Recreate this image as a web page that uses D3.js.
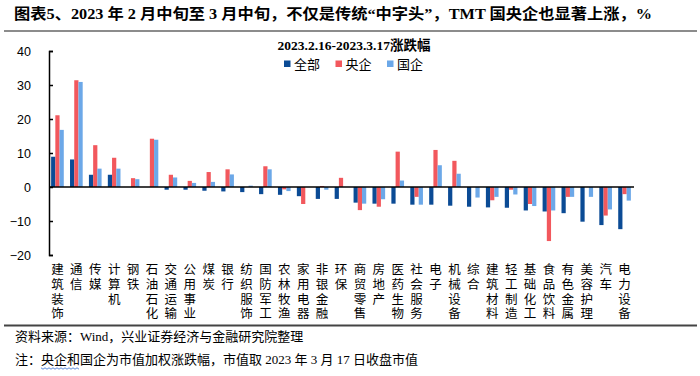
<!DOCTYPE html>
<html>
<head>
<meta charset="utf-8">
<script src="https://cdn.jsdelivr.net/npm/d3@7"></script>
<style>
  body { margin: 0; background: #fff; }
  svg text { fill: #000; }
</style>
</head>
<body>
<div id="chart"></div>
<script>
const categories = ["建筑装饰", "通信", "传媒", "计算机", "钢铁", "石油石化", "交通运输", "公用事业", "煤炭", "银行",
    "纺织服饰", "国防军工", "农林牧渔", "家用电器", "非银金融", "环保", "商贸零售", "房地产", "医药生物", "社会服务",
    "电子", "机械设备", "综合", "建筑材料", "轻工制造", "基础化工", "食品饮料", "有色金属", "美容护理", "汽车", "电力设备"];

const seriesNames = ["全部", "央企", "国企"];

// 全部
const allValues = [8.9, 8.1, 3.6, 3.6, 0, 0, -0.8, -0.8, -1.1, -1.3,
    -1.5, -2.1, -2.3, -2.7, -3.5, -3.5, -4.6, -4.9, -4.9, -5.2,
    -5.2, -5.5, -5.8, -6.0, -6.1, -6.9, -7.2, -7.7, -10.2, -11.2, -12.4];
// 央企
const centralValues = [21.1, 31.4, 12.3, 8.6, 2.6, 14.2, 3.6, 1.8, 4.4, 5.2,
    0, 6.1, -0.7, -5.0, 0.3, 2.7, -6.8, -5.8, 10.4, -2.9,
    10.9, 7.7, 0, -3.9, -0.8, -5.0, -15.9, -2.9, 0, -8.4, -2.1];
// 国企
const stateValues = [16.8, 30.9, 5.4, 5.4, 2.3, 13.9, 2.8, 1.2, 1.5, 3.7,
    0.4, 5.2, -1.2, 0, -0.8, 0, -4.9, -3.6, 1.9, -5.2,
    6.4, 3.9, -3.1, -2.9, -2.2, -5.6, -6.9, -2.9, -2.9, -6.6, -4.0];

const yTicks = [40, 30, 20, 10, 0, -10, -20];

const colors = ["#0b4b95", "#f2585d", "#6ca8e8"];

const width = 700, height = 376;
const cjk = "'Noto Sans CJK SC', sans-serif";
const serif = "'Liberation Serif', 'Noto Sans CJK SC', serif";

const svg = d3.select("#chart")
    .append("svg")
    .attr("width", width)
    .attr("height", height);

// title
svg.append("text")
    .attr("x", 14)
    .attr("y", 19)
    .attr("font-family", serif)
    .attr("font-weight", "bold")
    .attr("font-size", 15)
    .attr("textLength", 638)
    .attr("lengthAdjust", "spacingAndGlyphs")
    .text("图表5、2023 年 2 月中旬至 3 月中旬，不仅是传统“中字头”，TMT 国央企也显著上涨，%");

svg.append("line")
    .attr("x1", 4).attr("x2", 697)
    .attr("y1", 31).attr("y2", 31)
    .attr("stroke", "#666")
    .attr("stroke-width", 1.5);

// subtitle
svg.append("text")
    .attr("x", 354)
    .attr("y", 50)
    .attr("text-anchor", "middle")
    .attr("font-family", serif)
    .attr("font-weight", "bold")
    .attr("font-size", 13.5)
    .text("2023.2.16-2023.3.17涨跌幅");

// legend
const legend = svg.append("g")
    .selectAll("g")
    .data(seriesNames)
    .enter()
    .append("g")
    .attr("transform", (d, i) => `translate(${284 + i * 51.5},64)`);

legend.append("rect")
    .attr("x", 0).attr("y", -3.5)
    .attr("width", 6.5).attr("height", 6.5)
    .attr("fill", (d, i) => colors[i]);

legend.append("text")
    .attr("x", 10)
    .attr("y", 5)
    .attr("font-family", cjk)
    .attr("font-size", 13)
    .text(d => d);

// scales
const x = d3.scaleBand()
    .domain(categories)
    .range([48, 634])
    .paddingInner(0.33)
    .paddingOuter(0.165);

const xSub = d3.scaleBand()
    .domain(seriesNames)
    .range([0, x.bandwidth()]);

const y = d3.scaleLinear()
    .domain([-20, 40])
    .range([255, 51]);

const series = [allValues, centralValues, stateValues];

const rows = categories.map((c, i) => ({
    name: c,
    values: seriesNames.map((s, j) => ({ key: s, value: series[j][i], idx: j }))
}));

// bars
svg.append("g")
    .selectAll("g")
    .data(rows)
    .enter()
    .append("g")
    .attr("transform", d => `translate(${x(d.name)},0)`)
    .selectAll("rect")
    .data(d => d.values)
    .enter()
    .append("rect")
    .attr("x", d => xSub(d.key))
    .attr("width", xSub.bandwidth())
    .attr("y", d => Math.min(y(d.value), y(0)))
    .attr("height", d => Math.abs(y(d.value) - y(0)))
    .attr("fill", d => colors[d.idx]);

// y axis
const yAxis = d3.axisLeft(y)
    .tickValues(yTicks)
    .tickSize(-4)
    .tickPadding(18);

const yG = svg.append("g")
    .attr("transform", "translate(49,0)")
    .call(yAxis);

yG.select(".domain").attr("stroke", "#000").attr("stroke-width", 1.5);
yG.selectAll(".tick line").attr("stroke", "#000").attr("stroke-width", 1.5);
yG.selectAll(".tick text")
    .attr("font-family", "'Liberation Sans', Arial, sans-serif")
    .attr("font-size", 12.5)
    .attr("fill", "#000");

// zero line
svg.append("line")
    .attr("x1", 49).attr("x2", 634)
    .attr("y1", y(0)).attr("y2", y(0))
    .attr("stroke", "#000")
    .attr("stroke-width", 1.5);

// x labels, written top to bottom
svg.append("g")
    .selectAll("text")
    .data(categories)
    .enter()
    .append("text")
    .attr("x", d => x(d) + x.bandwidth() / 2)
    .attr("y", 263)
    .attr("font-family", cjk)
    .attr("font-size", 12.5)
    .style("writing-mode", "vertical-rl")
    .style("letter-spacing", "2.3px")
    .text(d => d);

// bottom rule
svg.append("line")
    .attr("x1", 4).attr("x2", 697)
    .attr("y1", 325.5).attr("y2", 325.5)
    .attr("stroke", "#444")
    .attr("stroke-width", 2);

// footer
svg.append("text")
    .attr("x", 15)
    .attr("y", 341)
    .attr("font-family", serif)
    .attr("font-size", 13)
    .text("资料来源：Wind，兴业证券经济与金融研究院整理");

const note = svg.append("text")
    .attr("x", 15)
    .attr("y", 364)
    .attr("font-family", serif)
    .attr("font-size", 13)
    .text("注：央企和国企为市值加权涨跌幅，市值取 2023 年 3 月 17 日收盘市值");

// spell-check style wavy underline under 央企和
const nn = note.node();
const wx0 = nn.getStartPositionOfChar(2).x;
const wx1 = nn.getEndPositionOfChar(4).x;
const wave = [];
for (let px = wx0, k = 0; px <= wx1; px += 2, k++) {
    wave.push([px, 368 + (k % 2 ? 1.2 : -0.2)]);
}
svg.append("path")
    .attr("d", d3.line()(wave))
    .attr("fill", "none")
    .attr("stroke", "#4a7fd6")
    .attr("stroke-width", 0.9);
</script>
</body>
</html>
